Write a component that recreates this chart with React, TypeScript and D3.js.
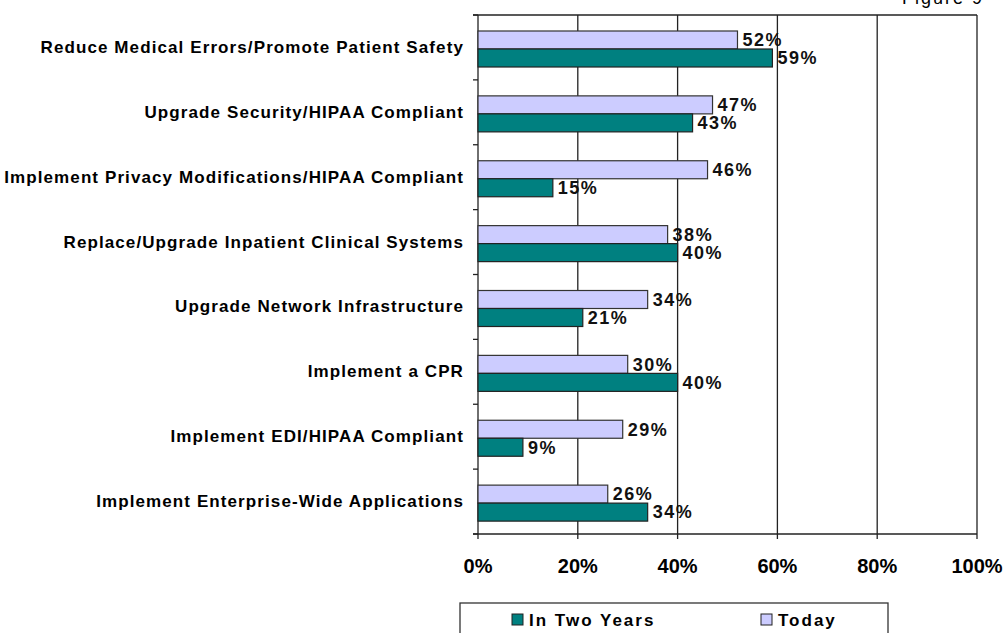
import React, { useEffect, useRef } from 'react';
import * as d3 from 'd3';

const categories = [
  'Reduce Medical Errors/Promote Patient Safety',
  'Upgrade Security/HIPAA Compliant',
  'Implement Privacy Modifications/HIPAA Compliant',
  'Replace/Upgrade Inpatient Clinical Systems',
  'Upgrade Network Infrastructure',
  'Implement a CPR',
  'Implement EDI/HIPAA Compliant',
  'Implement Enterprise-Wide Applications',
];
const today = [52, 47, 46, 38, 34, 30, 29, 26];
const inTwoYears = [59, 43, 15, 40, 21, 40, 9, 34];
const xTicks = [0, 20, 40, 60, 80, 100];

const TEAL = '#008080';
const LAVENDER = '#CCCCFF';
const FONT = 'Arial, "Liberation Sans", sans-serif';

export default function App() {
  const ref = useRef<SVGSVGElement>(null);

  useEffect(() => {
    const svg = d3.select(ref.current);
    svg.selectAll('*').remove();

    const left = 478, right = 977, top = 15, bottom = 534;

    const x = d3.scaleLinear().domain([0, 100]).range([left, right]);
    const y = d3.scaleBand().domain(categories).range([top, bottom]);
    const barH = 18;
    const barOff = 16;

    // "Figure 9" caption, cut at the top like the source
    svg.append('text')
      .attr('x', 984).attr('y', 4)
      .attr('text-anchor', 'end')
      .style('font', `18px ${FONT}`)
      .style('letter-spacing', '2px')
      .text('Figure 9');

    const g = svg.append('g');

    // plot frame top and gridlines
    g.append('line')
      .attr('x1', left - 5).attr('x2', right).attr('y1', top).attr('y2', top)
      .attr('stroke', '#222').attr('stroke-width', 1.5);

    g.selectAll('.grid')
      .data(xTicks)
      .enter().append('line')
      .attr('class', 'grid')
      .attr('x1', d => x(d)).attr('x2', d => x(d))
      .attr('y1', top).attr('y2', bottom + 5)
      .attr('stroke', '#222').attr('stroke-width', 1.3);

    // left axis tick stubs
    const bounds = categories.map(c => y(c) as number).concat([bottom]);
    g.selectAll('.ytick')
      .data(bounds)
      .enter().append('line')
      .attr('x1', left - 5).attr('x2', left)
      .attr('y1', d => d).attr('y2', d => d)
      .attr('stroke', '#222').attr('stroke-width', 1.3);

    // x axis line
    g.append('line')
      .attr('x1', left - 5).attr('x2', right).attr('y1', bottom).attr('y2', bottom)
      .attr('stroke', '#222').attr('stroke-width', 1.3);

    // bars
    const rows = categories.map((c, i) => ({ c, t: today[i], n: inTwoYears[i] }));

    g.selectAll('.bar-today')
      .data(rows)
      .enter().append('rect')
      .attr('x', left)
      .attr('y', d => (y(d.c) as number) + barOff)
      .attr('width', d => x(d.t) - left)
      .attr('height', barH)
      .attr('fill', LAVENDER)
      .attr('stroke', '#333').attr('stroke-width', 1.2);

    g.selectAll('.bar-two')
      .data(rows)
      .enter().append('rect')
      .attr('x', left)
      .attr('y', d => (y(d.c) as number) + barOff + barH)
      .attr('width', d => x(d.n) - left)
      .attr('height', barH)
      .attr('fill', TEAL)
      .attr('stroke', '#222').attr('stroke-width', 1.2);

    // value labels
    g.selectAll('.lab-today')
      .data(rows)
      .enter().append('text')
      .attr('x', d => x(d.t) + 5)
      .attr('y', d => (y(d.c) as number) + barOff + barH / 2)
      .attr('dy', '0.35em')
      .style('font', `bold 18px ${FONT}`)
      .style('letter-spacing', '1.5px')
      .attr('fill', '#111')
      .text(d => d.t + '%');

    g.selectAll('.lab-two')
      .data(rows)
      .enter().append('text')
      .attr('x', d => x(d.n) + 5)
      .attr('y', d => (y(d.c) as number) + barOff + barH * 1.5)
      .attr('dy', '0.35em')
      .style('font', `bold 18px ${FONT}`)
      .style('letter-spacing', '1.5px')
      .attr('fill', '#111')
      .text(d => d.n + '%');

    // category labels
    g.selectAll('.cat')
      .data(categories)
      .enter().append('text')
      .attr('x', 464)
      .attr('y', d => (y(d) as number) + barOff + barH - 2)
      .attr('dy', '0.35em')
      .attr('text-anchor', 'end')
      .style('font', `bold 17px ${FONT}`)
      .style('letter-spacing', '1.1px')
      .attr('fill', '#000')
      .text(d => d);

    // x tick labels
    g.selectAll('.xlab')
      .data(xTicks)
      .enter().append('text')
      .attr('x', d => x(d))
      .attr('y', 573)
      .attr('text-anchor', 'middle')
      .style('font', `bold 20px ${FONT}`)
      .attr('fill', '#000')
      .text(d => d + '%');

    // legend
    const lg = svg.append('g');
    lg.append('rect')
      .attr('x', 460).attr('y', 603).attr('width', 428).attr('height', 60)
      .attr('fill', 'none').attr('stroke', '#333').attr('stroke-width', 1.3);
    const legend = [
      { label: 'In Two Years', color: TEAL, x: 512 },
      { label: 'Today', color: LAVENDER, x: 761 },
    ];
    lg.selectAll('.lsw')
      .data(legend)
      .enter().append('rect')
      .attr('x', d => d.x).attr('y', 614).attr('width', 11).attr('height', 11)
      .attr('fill', d => d.color).attr('stroke', '#222').attr('stroke-width', 1);
    lg.selectAll('.ltx')
      .data(legend)
      .enter().append('text')
      .attr('x', d => d.x + 17).attr('y', 626)
      .style('font', `bold 17px ${FONT}`)
      .style('letter-spacing', '2px')
      .attr('fill', '#000')
      .text(d => d.label);
  }, []);

  return (
    <svg ref={ref} width={1005} height={633}
      style={{ position: 'absolute', left: 0, top: 0, background: '#fff' }} />
  );
}
